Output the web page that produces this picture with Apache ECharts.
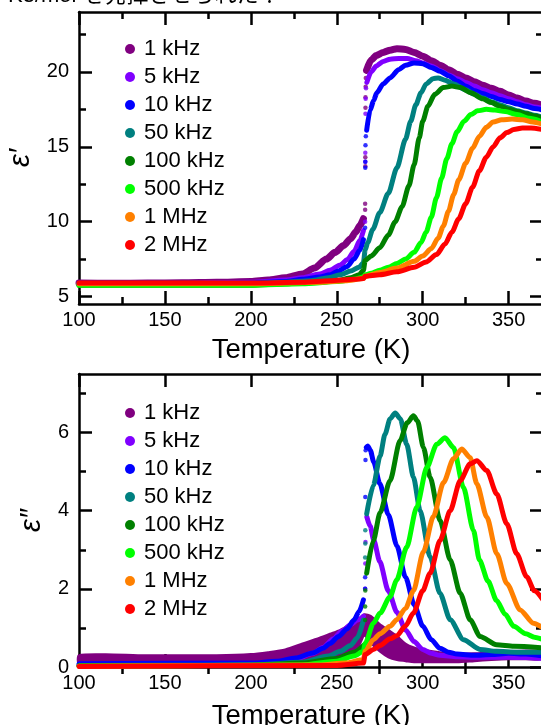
<!DOCTYPE html>
<html>
<head>
<meta charset="utf-8">
<script src="https://cdn.jsdelivr.net/npm/echarts@6/dist/echarts.min.js"></script>
<style>
  html, body { margin: 0; padding: 0; background: #fff; }
  #chart { width: 541px; height: 725px; }
</style>
</head>
<body>
<div id="chart"></div>
<script>
// ---- frequencies and colours ----
const freqNames = ['1 kHz', '5 kHz', '10 kHz', '50 kHz', '100 kHz', '500 kHz', '1 MHz', '2 MHz'];
const freqColors = ['#800080', '#8000ff', '#0000ff', '#008080', '#008000', '#00ff00', '#ff8000', '#ff0000'];

// ---- axis ticks ----
const tempMajor = [100, 150, 200, 250, 300, 350];
const tempMinor = [125, 175, 225, 275, 325];
const reMajor = [5, 10, 15, 20];
const reMinor = [7.5, 12.5, 17.5, 22.5];
const imMajor = [0, 2, 4, 6];
const imMinor = [1, 3, 5, 7];

// ---- real part ε′ : [T (K), ε′]; '-' marks the break at the 266 K transition ----
const re1k = [[100,5.9],[120,5.88],[140,5.9],[160,5.92],[180,5.95],[200,6.0],[210,6.1],[220,6.25],[230,6.5],[237,6.9],[244,7.5],[249,7.95],[254,8.4],[258,8.85],[261,9.3],[263.5,9.75],[265.5,10.2],[266,'-'],
  [267.3,20.1],[270,20.8],[273,21.1],[277,21.3],[281,21.45],[285,21.55],[290,21.5],[295,21.3],[300,21.05],[305,20.75],[310,20.45],[315,20.15],[320,19.85],[325,19.6],[330,19.35],[335,19.1],[340,18.9],[345,18.7],[350,18.45],[355,18.25],[360,18.05],[365,17.9],[370,17.75]];
const re5k = [[100,5.85],[150,5.85],[200,5.95],[220,6.1],[230,6.25],[240,6.5],[246,6.75],[252,7.1],[256,7.45],[260,8.0],[263.5,8.75],[265.5,9.4],[266,'-'],
  [267.5,19.3],[270,20.0],[273,20.4],[277,20.7],[281,20.85],[286,20.9],[291,20.9],[296,20.75],[300,20.6],[305,20.4],[310,20.1],[315,19.8],[320,19.55],[325,19.3],[330,19.05],[335,18.8],[340,18.6],[345,18.4],[350,18.2],[355,18.0],[360,17.8],[365,17.65],[370,17.55]];
const re10k = [[100,5.85],[150,5.85],[200,5.9],[220,6.0],[230,6.15],[240,6.3],[246,6.45],[251,6.7],[256,7.0],[260,7.5],[263.5,8.1],[265.5,8.8],[266,'-'],
  [267.4,16.1],[269.4,17.45],[271.5,18.1],[273.3,18.6],[277,19.2],[281,19.6],[286,20.15],[290,20.45],[295,20.6],[300,20.55],[305,20.3],[310,20.05],[315,19.75],[320,19.4],[325,19.05],[330,18.75],[335,18.55],[340,18.35],[345,18.15],[350,18.0],[355,17.85],[360,17.7],[365,17.55],[370,17.45]];
const re50k = [[100,5.85],[150,5.85],[200,5.85],[220,5.95],[235,6.05],[245,6.25],[252,6.45],[258,6.7],[263,6.95],[265.5,7.25],[266.5,8.1],[268,8.6],[271,9.5],[275,10.6],[280,11.9],[285,13.6],[290,15.5],[293,16.7],[296,17.8],[299,18.6],[302,19.2],[306,19.55],[309,19.6],[313,19.45],[318,19.2],[325,18.8],[330,18.5],[335,18.25],[340,18.0],[345,17.8],[350,17.6],[355,17.4],[360,17.25],[365,17.1],[370,16.95]];
const re100k = [[100,5.75],[150,5.75],[200,5.75],[220,5.85],[240,5.95],[250,6.05],[258,6.25],[263,6.45],[265.5,6.75],[266.5,7.4],[270,7.7],[275,8.25],[280,9.1],[284,10.0],[288,11.0],[292,12.4],[295,13.8],[298,15.6],[300,16.7],[303,17.7],[307,18.5],[312,18.95],[317,19.05],[322,18.95],[328,18.6],[335,18.2],[340,17.95],[345,17.7],[350,17.5],[355,17.35],[360,17.2],[365,17.05],[370,16.9]];
const re500k = [[100,5.75],[150,5.75],[200,5.75],[230,5.85],[250,6.0],[260,6.15],[265.5,6.3],[266.5,6.45],[270,6.55],[275,6.75],[280,6.95],[285,7.2],[290,7.5],[295,7.95],[299,8.6],[302,9.3],[305,10.3],[308,11.6],[311,12.9],[314,14.2],[317,15.2],[320,16.0],[324,16.7],[328,17.15],[332,17.4],[337,17.5],[342,17.45],[348,17.35],[355,17.15],[362,16.9],[370,16.65]];
const re1M = [[100,5.85],[150,5.85],[200,5.85],[240,5.95],[255,6.05],[265.5,6.2],[266.5,6.35],[275,6.6],[285,6.9],[295,7.35],[300,7.7],[305,8.2],[309,8.9],[312,9.7],[315,10.7],[318,11.8],[321,12.8],[325,13.9],[329,14.9],[333,15.7],[337,16.3],[341,16.65],[346,16.8],[352,16.85],[358,16.8],[364,16.65],[370,16.5]];
const re2M = [[100,5.9],[150,5.9],[200,5.9],[230,5.95],[246,6.05],[260,6.15],[265.5,6.2],[266.5,6.35],[275,6.45],[285,6.65],[295,6.95],[302,7.3],[308,7.8],[313,8.5],[317,9.3],[321,10.2],[325,11.2],[329,12.3],[333,13.4],[337,14.3],[341,15.0],[345,15.6],[349,15.95],[353,16.15],[358,16.25],[363,16.25],[370,16.15]];

// isolated readings inside the 266 K step of ε′
const reStep1k = [[266.5,10.8],[266.5,11.2],[266.6,13.7],[266.6,14.3],[266.7,17.6],[266.7,18.3],[266.8,19.0],[266.9,19.6]];
const reStep5k = [[266.5,10.0],[266.6,14.0],[266.6,14.6],[266.7,17.2],[266.8,18.2],[267,18.9]];
const reStep10k = [[266.5,9.6],[266.6,13.6],[266.6,14.0],[266.7,15.1],[266.9,15.7]];

// ---- imaginary part ε″ ----
// 1 kHz is a noisy cloud: lower and upper edge at common temperatures
const im1kT    = [100, 120, 140, 160, 180, 200, 210, 220, 230, 240, 246, 252, 258, 263, 266, 270, 275, 280, 285, 290, 295, 300, 310, 320, 330, 340, 350, 360, 370];
const im1kLow  = [0.08,0.08,0.08,0.08,0.08,0.08,0.1, 0.12,0.15,0.2, 0.25,0.3, 0.4, 0.55,0.8, 0.6, 0.4, 0.25,0.18,0.15,0.12,0.12,0.12,0.12,0.15,0.18,0.2, 0.2, 0.2];
const im1kHigh = [0.3, 0.32,0.3, 0.3, 0.3, 0.33,0.38,0.45,0.6, 0.75,0.85,0.95,1.1, 1.2, 1.35,1.3, 1.1, 0.95,0.8, 0.6, 0.5, 0.45,0.38,0.35,0.35,0.38,0.4, 0.42,0.4];

const im5k = [[100,0.05],[200,0.08],[215,0.12],[226,0.2],[236,0.35],[242,0.5],[248,0.72],[253,0.92],[258,1.08],[262,1.2],[265.5,1.3],[266,'-'],
  [267.5,3.84],[269.5,3.6],[271.5,3.25],[275,2.7],[280,1.95],[285,1.4],[290,0.95],[295,0.65],[300,0.45],[305,0.35],[310,0.3],[320,0.26],[330,0.25],[340,0.25],[350,0.25],[360,0.24],[370,0.22]];
const im10k = [[100,0.08],[200,0.1],[215,0.15],[226,0.23],[236,0.36],[242,0.48],[246,0.6],[251,0.78],[256,0.98],[260,1.2],[263,1.42],[265.5,1.72],[266,'-'],
  [267.2,5.62],[268,5.66],[269.5,5.55],[271.5,5.25],[275,4.7],[280,3.9],[285,3.1],[290,2.3],[295,1.6],[300,1.05],[305,0.7],[310,0.48],[315,0.38],[320,0.33],[330,0.3],[340,0.32],[350,0.35],[360,0.33],[370,0.28]];
const im50k = [[100,0.04],[200,0.05],[230,0.12],[245,0.28],[252,0.4],[258,0.55],[262,0.75],[265.5,1.2],[266,'-'],
  [267.4,3.92],[271.3,4.65],[275.2,5.4],[278,5.95],[281,6.35],[284,6.5],[287,6.35],[290.7,5.7],[294.6,4.86],[298.5,4.0],[304.3,2.82],[310,1.89],[316,1.21],[323.7,0.7],[333.4,0.45],[343,0.4],[355,0.38],[370,0.38]];
const im100k = [[100,0.03],[200,0.04],[230,0.1],[250,0.22],[260,0.38],[265.5,0.55],[266,'-'],
  [267.4,2.4],[271.3,3.24],[275.2,3.95],[281,4.77],[286.8,5.79],[291,6.25],[294.6,6.43],[297,6.3],[300.4,5.62],[304.3,4.86],[310.1,3.75],[316,2.74],[321.8,1.89],[327.6,1.21],[333.4,0.78],[343,0.57],[353,0.53],[370,0.49]];
const im500k = [[100,0.02],[230,0.05],[250,0.15],[260,0.28],[265.5,0.4],[266.5,0.6],[271.3,1.12],[275.2,1.38],[281,1.8],[284.9,2.23],[290.7,3.07],[296.5,4.09],[302.4,5.11],[308.2,5.7],[313,5.87],[317.9,5.62],[323.7,4.6],[329.5,3.5],[333,2.74],[338,2.2],[343,1.7],[348,1.35],[353,1.04],[360,0.85],[365,0.76],[370,0.7]];
const im1M = [[100,0.02],[240,0.05],[255,0.1],[265.5,0.19],[266.5,0.4],[271.3,0.7],[275.2,0.85],[281,1.04],[284.9,1.21],[290,1.5],[294.6,1.95],[300.4,2.95],[306.2,3.85],[312.1,4.72],[317.9,5.33],[322.7,5.58],[327.6,5.36],[331.5,4.69],[337.3,3.84],[343.1,2.9],[348.9,2.14],[356.7,1.46],[364.4,1.12],[370,1.0]];
const im2M = [[100,0.01],[250,0.04],[265.5,0.1],[266.5,0.32],[271.3,0.45],[275.2,0.55],[281,0.72],[284.9,0.8],[290,1.05],[294.6,1.38],[300,1.95],[304.3,2.4],[310.1,3.24],[316,4.0],[321.8,4.77],[327.6,5.2],[331.5,5.28],[337.3,5.03],[343.1,4.43],[348.9,3.67],[354.7,2.9],[360.5,2.31],[365,1.95],[370,1.72]];

// isolated readings inside the 266 K step of ε″
const imStep5k = [[266.5,2.0],[266.6,2.65],[266.7,3.2]];
const imStep10k = [[266.5,2.0],[266.5,2.3],[266.6,4.35],[266.7,5.3],[266.8,5.55]];
const imStep50k = [[266.5,2.8],[266.6,3.16],[266.6,3.5]];
const imStep100k = [[266.5,1.2],[266.5,1.55],[266.6,1.96]];

// ---- presentation ----
const FONT = '"Liberation Sans", Arial, sans-serif';
const INK = '#000';

const chart = echarts.init(document.getElementById('chart'), null, { renderer: 'canvas' });

function tempAxes(grid, gap) {
  const base = { type: 'value', gridIndex: grid, min: 100, max: 370, splitLine: { show: false } };
  const line = { show: true, onZero: false, lineStyle: { color: INK, width: 2.5 } };
  const tick = (vals, len) => ({ show: true, inside: true, length: len, customValues: vals, lineStyle: { color: INK, width: 2.5 } });
  return [
    Object.assign({}, base, {
      position: 'bottom', axisLine: line, axisTick: tick(tempMajor, 13),
      axisLabel: { customValues: tempMajor, color: INK, fontSize: 20, fontFamily: FONT, margin: 6 },
      name: 'Temperature (K)', nameLocation: 'middle', nameGap: gap,
      nameTextStyle: { color: INK, fontSize: 27.5, fontFamily: FONT }
    }),
    Object.assign({}, base, { position: 'bottom', axisLine: { show: false }, axisTick: tick(tempMinor, 7), axisLabel: { show: false } }),
    Object.assign({}, base, { position: 'top', axisLine: line, axisTick: tick(tempMajor, 13), axisLabel: { show: false } }),
    Object.assign({}, base, { position: 'top', axisLine: { show: false }, axisTick: tick(tempMinor, 7), axisLabel: { show: false } })
  ];
}

function valueAxes(grid, min, max, major, minor, name) {
  const base = { type: 'value', gridIndex: grid, min: min, max: max, splitLine: { show: false } };
  const line = { show: true, onZero: false, lineStyle: { color: INK, width: 2.5 } };
  const tick = (vals, len) => ({ show: true, inside: true, length: len, customValues: vals, lineStyle: { color: INK, width: 2.5 } });
  return [
    Object.assign({}, base, {
      position: 'left', axisLine: line, axisTick: tick(major, 13),
      axisLabel: { customValues: major, color: INK, fontSize: 20, fontFamily: FONT, margin: 10 },
      name: name, nameLocation: 'middle', nameGap: 33, nameRotate: 90,
      nameTextStyle: { color: INK, fontSize: 29, fontStyle: 'italic', fontFamily: FONT }
    }),
    Object.assign({}, base, { position: 'left', axisLine: { show: false }, axisTick: tick(minor, 7), axisLabel: { show: false } }),
    Object.assign({}, base, { position: 'right', axisLine: line, axisTick: tick(major, 13), axisLabel: { show: false } }),
    Object.assign({}, base, { position: 'right', axisLine: { show: false }, axisTick: tick(minor, 7), axisLabel: { show: false } })
  ];
}

function curve(idx, data, xi, yi, width) {
  return {
    type: 'line', name: freqNames[idx], data: data, xAxisIndex: xi, yAxisIndex: yi,
    showSymbol: false, symbol: 'circle', connectNulls: false,
    smooth: 0.25, smoothMonotone: 'x',
    lineStyle: { color: freqColors[idx], width: width, cap: 'round', join: 'round' },
    itemStyle: { color: freqColors[idx] },
    emphasis: { disabled: true }, z: 2 + idx
  };
}

function dots(idx, data, xi, yi) {
  return {
    type: 'scatter', name: freqNames[idx], data: data, xAxisIndex: xi, yAxisIndex: yi,
    symbolSize: 4.5, itemStyle: { color: freqColors[idx] }, emphasis: { disabled: true }, z: 2 + idx
  };
}

// 1 kHz loss cloud: one polygon between its lower and upper edge, placed through the axes
function cloudSeries(xi, yi) {
  return {
    type: 'custom', name: freqNames[0], xAxisIndex: xi, yAxisIndex: yi,
    data: im1kT.map((t, i) => [t, im1kLow[i], im1kHigh[i]]),
    encode: { x: 0, y: [1, 2] },
    itemStyle: { color: freqColors[0] },
    z: 2, silent: true,
    renderItem: function (params, api) {
      if (params.dataIndex !== 0) return null;
      const upper = im1kT.map((t, i) => api.coord([t, im1kHigh[i]]));
      const lower = im1kT.map((t, i) => api.coord([t, im1kLow[i]])).reverse();
      return {
        type: 'polygon',
        shape: { points: upper.concat(lower), smooth: 0.25 },
        style: { fill: freqColors[0], stroke: freqColors[0], lineWidth: 2 }
      };
    }
  };
}

const series = [];
// upper panel
[re1k, re5k, re10k, re50k, re100k, re500k, re1M, re2M].forEach((d, i) => series.push(curve(i, d, 0, 0, i === 0 ? 7 : 5)));
series.push(dots(0, reStep1k, 0, 0), dots(1, reStep5k, 0, 0), dots(2, reStep10k, 0, 0));

// lower panel
series.push(cloudSeries(4, 4));
[im5k, im10k, im50k, im100k, im500k, im1M, im2M].forEach((d, i) => series.push(curve(i + 1, d, 4, 4, 5)));
series.push(dots(1, imStep5k, 4, 4), dots(2, imStep10k, 4, 4), dots(3, imStep50k, 4, 4), dots(4, imStep100k, 4, 4));

function legendAt(top) {
  return {
    data: freqNames.map((n, i) => ({ name: n, icon: 'circle', itemStyle: { color: freqColors[i] } })),
    orient: 'vertical', left: 120, top: top,
    itemWidth: 10, itemHeight: 10, itemGap: 6,
    selectedMode: false,
    textStyle: { color: INK, fontSize: 22, fontFamily: FONT, padding: [0, 0, 0, 4], lineHeight: 22 }
  };
}

const option = {
  animation: false,
  backgroundColor: '#fff',
  grid: [
    { left: 79, right: -2, top: 12, bottom: 421, containLabel: false, outerBoundsMode: 'none' },
    { left: 79, right: -2, top: 374, bottom: 58, containLabel: false, outerBoundsMode: 'none' }
  ],
  xAxis: tempAxes(0, 32).concat(tempAxes(1, 35)),
  yAxis: valueAxes(0, 4.5, 24, reMajor, reMinor, 'ε′').concat(valueAxes(1, 0, 7.5, imMajor, imMinor, 'ε″')),
  legend: [legendAt(33), legendAt(397)],
  series: series,
  graphic: [{
    type: 'text', left: 8, top: -15, silent: true,
    style: { text: 'K3/mol を発揮させられた！', fill: INK, font: '22px "Liberation Sans", "Noto Sans CJK JP", sans-serif' }
  }]
};

chart.setOption(option);
</script>
</body>
</html>
